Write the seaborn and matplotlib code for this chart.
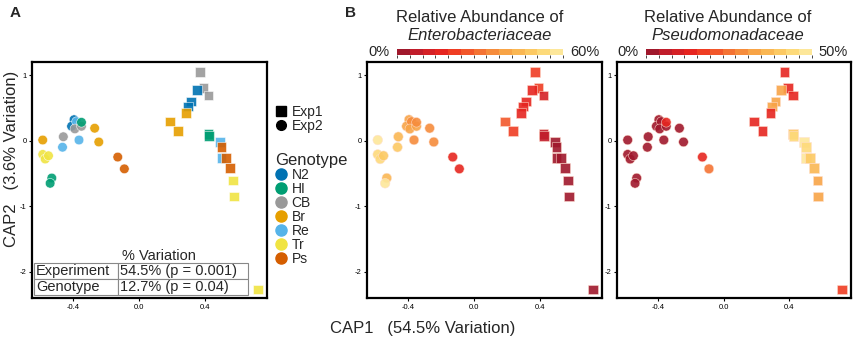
import matplotlib
matplotlib.use("Agg")
import matplotlib.pyplot as plt
from matplotlib.colors import ListedColormap, BoundaryNorm
from matplotlib.cm import ScalarMappable
from matplotlib.lines import Line2D
import seaborn as sns
import pandas as pd
import numpy as np

sns.set_style("white")
plt.rcParams['font.family'] = ['Liberation Sans', 'DejaVu Sans']
plt.rcParams['axes.unicode_minus'] = False

# ---- data ----
experiment = ['Exp1'] * 19 + ['Exp2'] * 19
genotype = ['CB', 'CB', 'CB', 'N2', 'N2', 'N2', 'Br', 'Br', 'Br', 'HI', 'HI',
            'Re', 'Ps', 'Re', 'Ps', 'Ps', 'Tr', 'Tr', 'Tr',
            'N2', 'N2', 'Re', 'CB', 'CB', 'HI', 'Br', 'Br', 'CB', 'Re', 'Re',
            'Br', 'Tr', 'Tr', 'Tr', 'HI', 'HI', 'Ps', 'Ps']
cap1 = [0.37, 0.39, 0.42, 0.35, 0.315, 0.295, 0.285, 0.185, 0.235, 0.42, 0.425,
        0.49, 0.50, 0.50, 0.525, 0.55, 0.57, 0.575, 0.72,
        -0.395, -0.41, -0.38, -0.39, -0.35, -0.35, -0.27, -0.245, -0.46, -0.465,
        -0.365, -0.585, -0.585, -0.57, -0.55, -0.53, -0.54, -0.13, -0.09]
cap2 = [1.05, 0.80, 0.69, 0.77, 0.60, 0.52, 0.42, 0.29, 0.15, 0.10, 0.07,
        -0.02, -0.10, -0.26, -0.26, -0.42, -0.61, -0.85, -2.27,
        0.32, 0.22, 0.29, 0.18, 0.22, 0.28, 0.19, -0.02, 0.06, -0.10,
        0.01, 0.01, -0.21, -0.28, -0.23, -0.57, -0.65, -0.25, -0.43]
entero = [22, 20, 12, 18, 18, 17, 18, 24, 20, 6, 5, 4, 3, 3, 4, 3, 2, 2, 1,
          38, 40, 36, 40, 38, 36, 33, 33, 46, 47, 34, 57, 52, 55, 50, 46, 56, 18, 17]
pseudo = [15, 12, 14, 33, 31, 32, 14, 15, 13, 42, 44, 47, 43, 47, 40, 37, 32, 31, 16,
          2, 2, 2, 3, 2, 14, 2, 2, 2, 3, 2, 2, 2, 3, 2, 2, 2, 15, 26]

geno_order = ['N2', 'HI', 'CB', 'Br', 'Re', 'Tr', 'Ps']
geno_colors = ['#0072B2', '#009E73', '#999999', '#E69F00', '#56B4E9', '#F0E442', '#D55E00']
abund_colors = ['#a0182c', '#c11d2b', '#d52126', '#e62520', '#ef3d23', '#f2572b', '#f47334',
                '#f68c3c', '#f8a447', '#fab753', '#fcc963', '#fdda7a', '#fde79a']

df = pd.DataFrame({'CAP1': cap1, 'CAP2': cap2, 'Experiment': experiment,
                   'Genotype': genotype, 'Entero': entero, 'Pseudo': pseudo})

markers = {'Exp1': 's', 'Exp2': 'o'}
cmap = ListedColormap(abund_colors)

fig = plt.figure(figsize=(8.56, 3.4), dpi=100)
axA = fig.add_axes([32/856, 42/340, 235/856, 236/340])
axB1 = fig.add_axes([367/856, 42/340, 235/856, 236/340])
axB2 = fig.add_axes([617/856, 42/340, 234/856, 236/340])

sns.scatterplot(data=df, x='CAP1', y='CAP2', hue='Genotype', style='Experiment',
                palette=dict(zip(geno_order, geno_colors)), markers=markers,
                s=48, alpha=0.9, edgecolor='white', linewidth=0.4, legend=False, ax=axA)

for ax, col, vmax in [(axB1, 'Entero', 60), (axB2, 'Pseudo', 50)]:
    sns.scatterplot(data=df, x='CAP1', y='CAP2', hue=col, style='Experiment',
                    palette=cmap, hue_norm=(0, vmax), markers=markers,
                    s=48, alpha=0.9, edgecolor='#ffe0d0', linewidth=0.4,
                    legend=False, ax=ax)

for ax in [axA, axB1, axB2]:
    ax.set_xlim(-0.65, 0.775)
    ax.set_ylim(-2.4, 1.2)
    ax.set_xticks([-0.4, 0.0, 0.4])
    ax.set_xticklabels(['-0.4', '0.0', '0.4'])
    ax.set_yticks([1, 0, -1, -2])
    ax.set_xlabel('')
    ax.set_ylabel('')
    ax.tick_params(axis='both', labelsize=5.5, length=2.5, width=0.8, pad=1.5,
                   bottom=True, left=True, colors='black')
    for sp in ax.spines.values():
        sp.set_linewidth(1.6)
        sp.set_color('black')

# table of variation
tab = axA.table(cellText=[['Experiment', '54.5% (p = 0.001)'],
                          ['Genotype', '12.7% (p = 0.04)']],
                cellLoc='left', colWidths=[0.39, 0.61],
                bbox=[0.009, 0.013, 0.91, 0.136])
tab.auto_set_font_size(False)
tab.set_fontsize(10.5)
for cell in tab.get_celld().values():
    cell.set_edgecolor('#888888')
    cell.set_linewidth(0.8)
    cell.PAD = 0.02
axA.text(0.54, 0.18, '% Variation', transform=axA.transAxes, ha='center',
         va='center', fontsize=10.5)

# legends
exp_handles = [Line2D([], [], marker='s', ls='', color='black', markersize=7),
               Line2D([], [], marker='o', ls='', color='black', markersize=7)]
leg1 = fig.legend(exp_handles, ['Exp1', 'Exp2'], loc='upper left',
                  bbox_to_anchor=(268/856, 1 - 98/340), frameon=False, fontsize=10,
                  handlelength=0.8, handletextpad=0.4, labelspacing=0.0, borderpad=0)
geno_handles = [Line2D([], [], marker='o', ls='', color=c, markersize=8) for c in geno_colors]
leg2 = fig.legend(geno_handles, geno_order, loc='upper left', title='Genotype',
                  title_fontsize=12, alignment='left',
                  bbox_to_anchor=(268/856, 1 - 146/340), frameon=False, fontsize=10,
                  handlelength=0.8, handletextpad=0.4, labelspacing=0.0, borderpad=0)

# colorbars and titles
for left, vmax, name, cx, lab0, lab1 in [(397, 60, 'Enterobacteriaceae', 480, 379, 585),
                                         (646, 50, 'Pseudomonadaceae', 728, 628, 833)]:
    cax = fig.add_axes([left/856, 1 - 55/340, 166/856, 6/340])
    sm = ScalarMappable(norm=BoundaryNorm(np.linspace(0, vmax, 14), 13), cmap=cmap)
    cb = fig.colorbar(sm, cax=cax, orientation='horizontal')
    cb.set_ticks([])
    cb.outline.set_visible(False)
    fig.text(cx/856, 1 - 18/340, 'Relative Abundance of', ha='center', va='center', fontsize=12)
    fig.text(cx/856, 1 - 36/340, name, ha='center', va='center', fontsize=12, style='italic')
    fig.text(lab0/856, 1 - 52/340, '0%', ha='center', va='center', fontsize=10.5)
    fig.text(lab1/856, 1 - 52/340, f'{vmax}%', ha='center', va='center', fontsize=10.5)

fig.text(10/856, 1 - 13/340, 'A', fontsize=11, fontweight='bold', ha='left', va='center')
fig.text(345/856, 1 - 13/340, 'B', fontsize=11, fontweight='bold', ha='left', va='center')
fig.text(12/856, 1 - 159/340, 'CAP2   (3.6% Variation)', rotation=90, ha='center',
         va='center', fontsize=12)
fig.text(330/856, 1 - 328/340, 'CAP1   (54.5% Variation)', ha='left', va='center', fontsize=12)

fig.savefig('out.png', dpi=100)
